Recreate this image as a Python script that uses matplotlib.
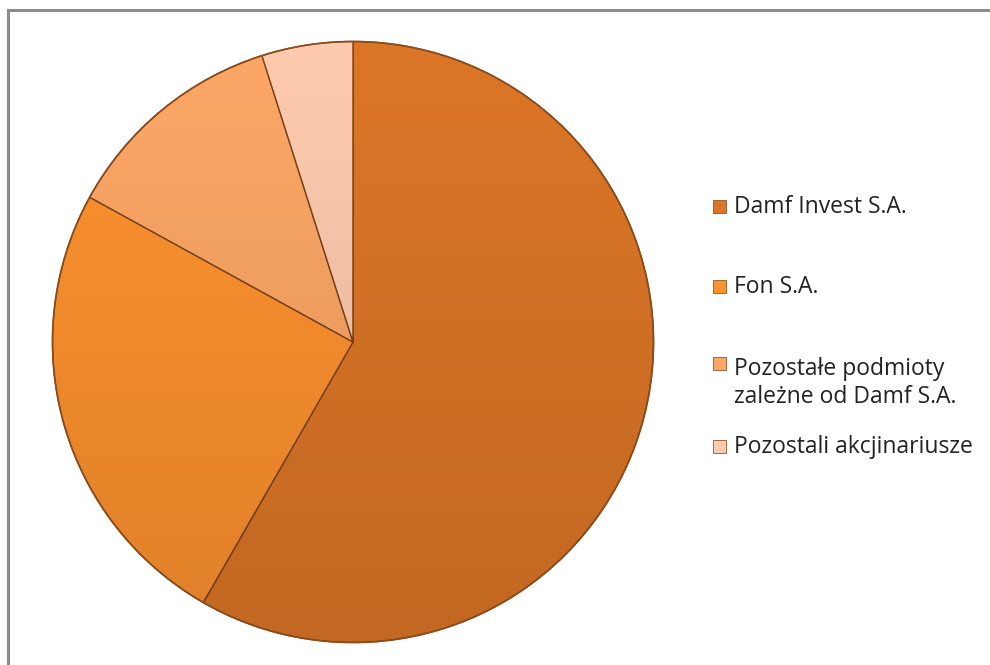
import matplotlib
matplotlib.use("Agg")
import matplotlib.pyplot as plt
import numpy as np
from matplotlib.patches import Rectangle, Circle
from matplotlib.lines import Line2D

labels = ["Damf Invest S.A.", "Fon S.A.", "Pozostałe podmioty\nzależne od Damf S.A.", "Pozostali akcjinariusze"]
values = [58.3, 24.7, 12.1, 4.9]
colors = ["#DC7627", "#FD922F", "#FCA766", "#FDCAAD"]
legend_y = [207, 287, 369, 447]  # pixel rows of legend entries (from top)

W, H = 990, 665
fig = plt.figure(figsize=(W / 100, H / 100), dpi=100)
fig.patch.set_facecolor("white")

# frame (only top and left visible)
fig.add_artist(Line2D([8 / W, 8 / W], [0, 1 - 10 / H], color="#8c8c8c", lw=2.2, transform=fig.transFigure))
fig.add_artist(Line2D([8 / W, 1], [1 - 10 / H, 1 - 10 / H], color="#8c8c8c", lw=2.2, transform=fig.transFigure))

cx, cy, r = 353, 342, 302
ax = fig.add_axes([(cx - r) / W, (H - cy - r) / H, 2 * r / W, 2 * r / H])
wedges, _ = ax.pie(values, colors=colors, startangle=90, counterclock=False,
                   wedgeprops=dict(edgecolor="#7a4216", linewidth=1.0))
ax.set_aspect("equal")
ax.set_xlim(-1.005, 1.005)
ax.set_ylim(-1.005, 1.005)
ax.axis("off")

# subtle vertical shading clipped to the pie
grad = np.zeros((200, 2, 4))
grad[..., 3] = np.linspace(0.12, 0.0, 200)[:, None]
im = ax.imshow(grad, extent=[-1, 1, -1, 1], origin="lower", aspect="auto", zorder=3)
clip = Circle((0, 0), 1.0, transform=ax.transData)
im.set_clip_path(clip)
ax.add_patch(Circle((0, 0), 1.0, fill=False, edgecolor="#8a4c1c", lw=1.2, zorder=4))

# legend drawn manually
fs = 16.5
for lab, col, y in zip(labels, colors, legend_y):
    sq_y = y - 6 if "\n" in lab else y - 1
    fig.add_artist(Rectangle((713 / W, 1 - (sq_y + 6.5) / H), 13 / W, 13 / H,
                             facecolor=col, edgecolor="#8a5a30", lw=0.6, transform=fig.transFigure))
    fig.text(734 / W, 1 - y / H, lab.split("\n")[0], fontsize=fs, family="Open Sans", color="#222222",
             va="center", ha="left")
    if "\n" in lab:
        fig.text(734 / W, 1 - (y + 28) / H, lab.split("\n")[1], fontsize=fs, family="Open Sans",
                 color="#222222", va="center", ha="left")

fig.savefig("out.png", dpi=100, facecolor="white")
